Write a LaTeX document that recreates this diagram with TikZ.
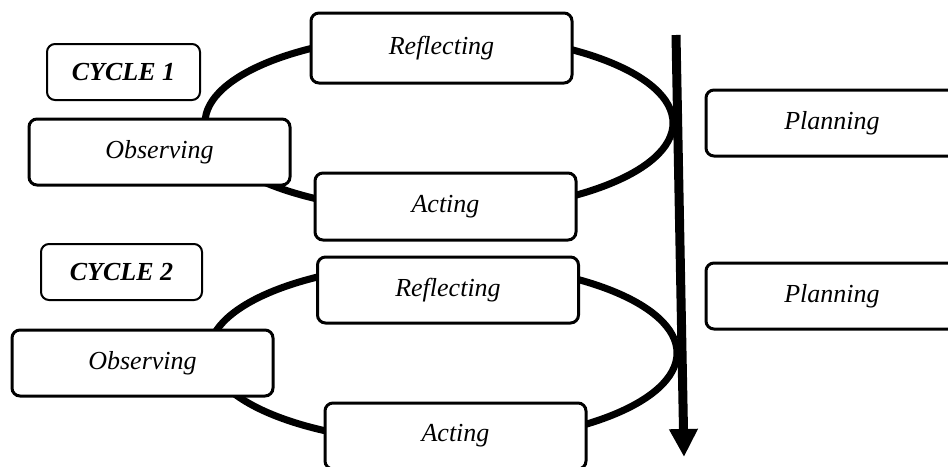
\documentclass[tikz,border=0pt]{standalone}
\usepackage{fontspec}
\setmainfont{Liberation Serif}
\usetikzlibrary{arrows.meta,positioning}

\begin{document}
\begin{tikzpicture}[
  x=0.5pt, y=-0.5pt,
  stage/.style={draw, line width=1.5pt, rounded corners=4pt, fill=white, minimum width=130.5pt, minimum height=33pt, inner sep=0pt, font=\fontsize{13}{15}\selectfont\itshape},
  cyclelbl/.style={draw, line width=1pt, rounded corners=4pt, fill=white, minimum height=28pt, inner sep=0pt, font=\fontsize{13}{15}\selectfont\bfseries\itshape},
  loop/.style={line width=3.5pt},
  flow/.style={-{Triangle[width=13.5pt,length=14pt]}, line width=4.5pt}
]
  \useasboundingbox (0,0) rectangle (948,466);

  % Cycle 1
  \coordinate (c1) at (439,123);
  \draw[loop] (c1) ellipse [x radius=234, y radius=89];
  \node[cyclelbl, minimum width=76.5pt] (cyc1) at (123.5,72) {CYCLE 1};
  \node[stage, minimum height=35pt] (refl1) at (441.5,48) {Reflecting};
  \node[stage] (obs1) at (159.5,152) {Observing};
  \node[stage, minimum height=33.5pt] (act1) at (445.5,206.5) {Acting};
  \node[stage, minimum width=126pt] (plan1) at (832,123) {Planning};

  % Cycle 2
  \coordinate (c2) at (443,353);
  \draw[loop] (c2) ellipse [x radius=234, y radius=90];
  \node[cyclelbl, minimum width=80.5pt] (cyc2) at (121.5,272) {CYCLE 2};
  \node[stage] (refl2) at (448,290) {Reflecting};
  \node[stage] (obs2) at (142.5,363) {Observing};
  \node[stage] (act2) at (455.5,436) {Acting};
  \node[stage, minimum width=126pt] (plan2) at (832,296) {Planning};

  % Time arrow
  \coordinate (start) at (676,35);
  \coordinate (tip) at (684,457);
  \draw[flow] (start) -- (tip);
\end{tikzpicture}
\end{document}
